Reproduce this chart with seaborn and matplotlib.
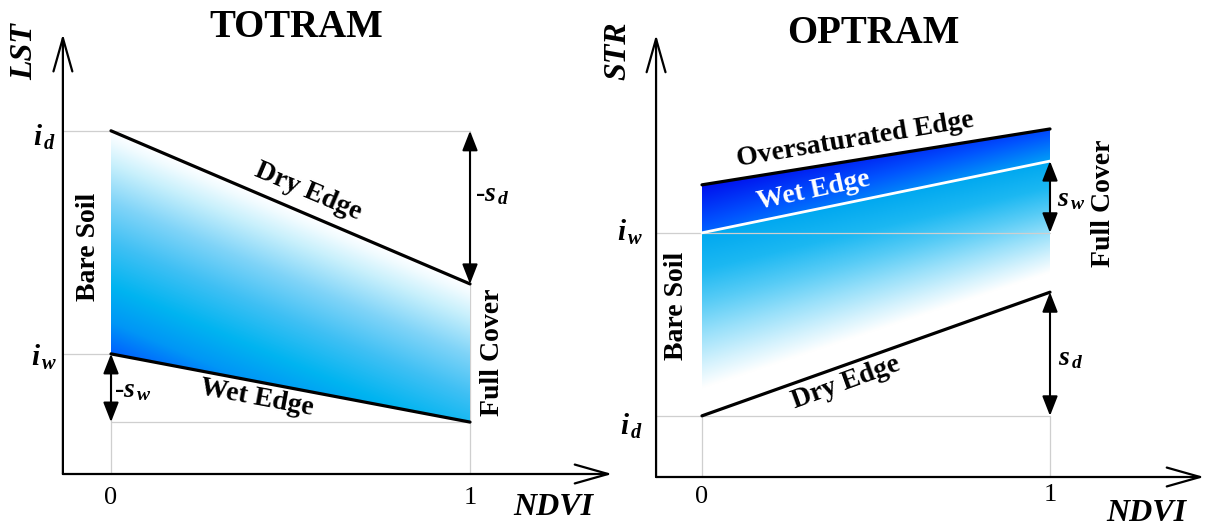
import numpy as np
import matplotlib
matplotlib.use("Agg")
import matplotlib.pyplot as plt
from matplotlib.colors import LinearSegmentedColormap
from matplotlib.patches import Polygon
import seaborn as sns

# NDVI at bare soil and at full cover
ndvi_ends = [0.0, 1.0]
tick_labels = ["0", "1"]

# TOTRAM edges in LST space: value at NDVI = 0 and at NDVI = 1
totram_dry_edge = [7.80, 4.32]   # i_d, i_d + s_d
totram_wet_edge = [2.73, 1.18]   # i_w, i_w + s_w

# OPTRAM edges in STR space
optram_over_edge = [6.64, 7.91]
optram_wet_edge = [5.55, 7.18]   # i_w, i_w + s_w
optram_dry_edge = [1.39, 4.20]   # i_d, i_d + s_d

panel_titles = ["TOTRAM", "OPTRAM"]
y_names = ["LST", "STR"]
x_name = "NDVI"

sns.set_theme(style="white")
plt.rcParams["font.family"] = ["Liberation Serif", "DejaVu Serif"]
plt.rcParams["text.color"] = "black"
plt.rcParams["mathtext.fontset"] = "custom"
plt.rcParams["mathtext.it"] = "Liberation Serif:italic:bold"
plt.rcParams["mathtext.rm"] = "Liberation Serif:bold"
plt.rcParams["mathtext.bf"] = "Liberation Serif:bold"

W, H = 1207, 527
fig = plt.figure(figsize=(W / 100, H / 100), dpi=100)
fig.patch.set_facecolor("white")

GUIDE = "#cfcfcf"


def make_axes(px_left, px_right, origin_px, unit_px, base_py, unit_py):
    ax = fig.add_axes([px_left / W, 0, (px_right - px_left) / W, 1])
    lims = ((px_left - origin_px) / unit_px, (px_right - origin_px) / unit_px,
            (base_py - H) / unit_py, base_py / unit_py)
    ax.set_axis_off()
    return ax, lims


def edge_at(edge, x):
    return edge[0] + (edge[1] - edge[0]) * x


def shade(ax, top, bottom, value_fn, cmap):
    xs = np.linspace(0, 1, 500)
    ys = np.linspace(min(bottom), max(top), 600)
    X, Y = np.meshgrid(xs, ys)
    img = ax.imshow(np.clip(value_fn(X, Y), 0, 1), extent=(0, 1, ys[0], ys[-1]),
                    origin="lower", cmap=cmap, vmin=0, vmax=1, aspect="auto",
                    interpolation="bilinear", zorder=1)
    clip = Polygon([(ndvi_ends[0], top[0]), (ndvi_ends[1], top[1]),
                    (ndvi_ends[1], bottom[1]), (ndvi_ends[0], bottom[0])],
                   closed=True, facecolor="none", edgecolor="none")
    ax.add_patch(clip)
    img.set_clip_path(clip)


def axis_arrows(ax, x0, x_end, y_end):
    style = "->,head_length=24,head_width=6.8"
    for xy in [(x_end, 0), (x0, y_end)]:
        ax.annotate("", xy=xy, xytext=(x0, 0),
                    arrowprops=dict(arrowstyle=style, lw=1.6, color="black",
                                    shrinkA=0, shrinkB=0, mutation_scale=1),
                    annotation_clip=False, zorder=5)


def span_arrow(ax, x, y0, y1):
    ax.annotate("", xy=(x, y1), xytext=(x, y0),
                arrowprops=dict(arrowstyle="<|-|>,head_length=12,head_width=4.7",
                                lw=1.5, color="black", shrinkA=0, shrinkB=0,
                                mutation_scale=1),
                zorder=6)


def edge_line(ax, edge, color, lw):
    sns.lineplot(x=ndvi_ends, y=edge, color=color, lw=lw, ax=ax, zorder=4)


bold20 = dict(fontsize=20, fontweight="bold", ha="center", va="center",
              color="black")
name_kw = dict(fontsize=23, fontweight="bold", fontstyle="italic",
               ha="center", va="center", color="black")
tick_kw = dict(fontsize=19, ha="center", va="center", color="black")
sym_kw = dict(fontsize=21, ha="center", va="center", color="black")
title_kw = dict(fontsize=28, fontweight="bold", ha="center", va="center",
                color="black")
slope_kw = dict(fontsize=20, fontweight="bold", ha="center", va="center",
                color="black")

# ---------------- TOTRAM ----------------
ax, lims = make_axes(0, 603.5, 111, 359, 474, 44)
y_axis_x = -0.134
dry, wet = totram_dry_edge, totram_wet_edge
span_dry = dry[0] - wet[0]

cmap_t = LinearSegmentedColormap.from_list("totram", [
    (0.00, "#ffffff"), (0.05, "#f0fbff"), (0.15, "#c8f0fc"), (0.32, "#80d4f8"),
    (0.50, "#40c0f4"), (0.70, "#00b4f0"), (0.86, "#0096f6"), (1.00, "#0060ff")])
shade(ax, dry, wet, lambda X, Y: (edge_at(dry, X) - Y) / span_dry, cmap_t)

# guide lines
ax.plot([y_axis_x, ndvi_ends[1]], [dry[0], dry[0]], color=GUIDE, lw=0.9, zorder=2)
ax.plot([y_axis_x, ndvi_ends[0]], [wet[0], wet[0]], color=GUIDE, lw=0.9, zorder=2)
ax.plot([ndvi_ends[0], ndvi_ends[1]], [wet[1], wet[1]], color=GUIDE, lw=0.9, zorder=2)
ax.plot([ndvi_ends[0], ndvi_ends[0]], [0, wet[0]], color=GUIDE, lw=0.9, zorder=2)
ax.plot([ndvi_ends[1], ndvi_ends[1]], [0, dry[0]], color=GUIDE, lw=0.9, zorder=0)

edge_line(ax, dry, "black", 2.3)
edge_line(ax, wet, "black", 2.3)
span_arrow(ax, ndvi_ends[1], dry[0], dry[1])
span_arrow(ax, ndvi_ends[0], wet[0], wet[1])
axis_arrows(ax, y_axis_x, 1.396, 10.0)

ax.text(0.515, 10.15, panel_titles[0], **title_kw)
ax.text(-0.240, 9.59, y_names[0], rotation=90, **name_kw)
ax.text(1.231, -0.77, x_name, **name_kw)
ax.text(-0.185, 7.66, r"$i_{\,d}$", **sym_kw)
ax.text(-0.185, 2.64, r"$i_{\,w}$", **sym_kw)
for xv, lab in zip(ndvi_ends, tick_labels):
    ax.text(xv, -0.545, lab, **tick_kw)
ax.text(-0.064, 5.16, "Bare Soil", rotation=90, **bold20)
ax.text(1.064, 2.77, "Full Cover", rotation=90, **bold20)
ax.text(0.549, 6.41, "Dry Edge", rotation=-23, **bold20)
ax.text(0.407, 1.73, "Wet Edge", rotation=-10.5, **bold20)
ax.text(1.062, 6.34, r"-$s_{\,d}$", **slope_kw)
ax.text(0.062, 1.89, r"-$s_{\,w}$", **slope_kw)
ax.set_xlim(lims[0], lims[1])
ax.set_ylim(lims[2], lims[3])

# ---------------- OPTRAM ----------------
ax, lims = make_axes(603.5, 1207, 702, 348, 477, 44)
y_axis_x = -0.132
over, wet, dry = optram_over_edge, optram_wet_edge, optram_dry_edge

cmap_band = LinearSegmentedColormap.from_list("band", [
    (0.00, "#0010ee"), (0.50, "#0054ff"), (1.00, "#00a0f6")])
cmap_low = LinearSegmentedColormap.from_list("low", [
    (0.00, "#00a8f0"), (0.20, "#1cb8f2"), (0.38, "#58ccf6"), (0.55, "#98e0fa"),
    (0.72, "#d4f2fd"), (0.85, "#ffffff"), (1.00, "#ffffff")])
shade(ax, over, wet,
      lambda X, Y: 0.6 * (edge_at(over, X) - Y) / (edge_at(over, X) - edge_at(wet, X)) + 0.4 * X,
      cmap_band)
shade(ax, wet, dry,
      lambda X, Y: (edge_at(wet, X) - Y) / (edge_at(wet, X) - edge_at(dry, X)),
      cmap_low)

ax.plot([y_axis_x, ndvi_ends[1]], [wet[0], wet[0]], color=GUIDE, lw=0.9, zorder=2)
ax.plot([y_axis_x, ndvi_ends[1]], [dry[0], dry[0]], color=GUIDE, lw=0.9, zorder=2)
ax.plot([ndvi_ends[0], ndvi_ends[0]], [0, dry[0]], color=GUIDE, lw=0.9, zorder=2)
ax.plot([ndvi_ends[1], ndvi_ends[1]], [0, dry[0]], color=GUIDE, lw=0.9, zorder=2)

edge_line(ax, over, "black", 2.3)
edge_line(ax, wet, "white", 2.0)
edge_line(ax, dry, "black", 2.3)
span_arrow(ax, ndvi_ends[1], wet[0], wet[1])
span_arrow(ax, ndvi_ends[1], dry[0], dry[1])
axis_arrows(ax, y_axis_x, 1.443, 10.05)

ax.text(0.491, 10.07, panel_titles[1], **title_kw)
ax.text(-0.241, 9.70, y_names[1], rotation=90, **name_kw)
ax.text(1.276, -0.82, x_name, **name_kw)
ax.text(-0.206, 5.55, r"$i_{\,w}$", **sym_kw)
ax.text(-0.203, 1.16, r"$i_{\,d}$", **sym_kw)
ax.text(0, -0.45, tick_labels[0], **tick_kw)
ax.text(1, -0.41, tick_labels[1], **tick_kw)
ax.text(-0.072, 3.89, "Bare Soil", rotation=90, **bold20)
ax.text(1.155, 6.23, "Full Cover", rotation=90, **bold20)
ax.text(0.44, 7.66, "Oversaturated Edge", rotation=9.5, **bold20)
ax.text(0.322, 6.50, "Wet Edge", rotation=12,
        **{**bold20, "color": "white"})
ax.text(0.414, 2.14, "Dry Edge", rotation=20, **bold20)
ax.text(1.062, 6.30, r"$s_{\,w}$", **slope_kw)
ax.text(1.060, 2.70, r"$s_{\,d}$", **slope_kw)
ax.set_xlim(lims[0], lims[1])
ax.set_ylim(lims[2], lims[3])

fig.savefig("out.png", dpi=100)
